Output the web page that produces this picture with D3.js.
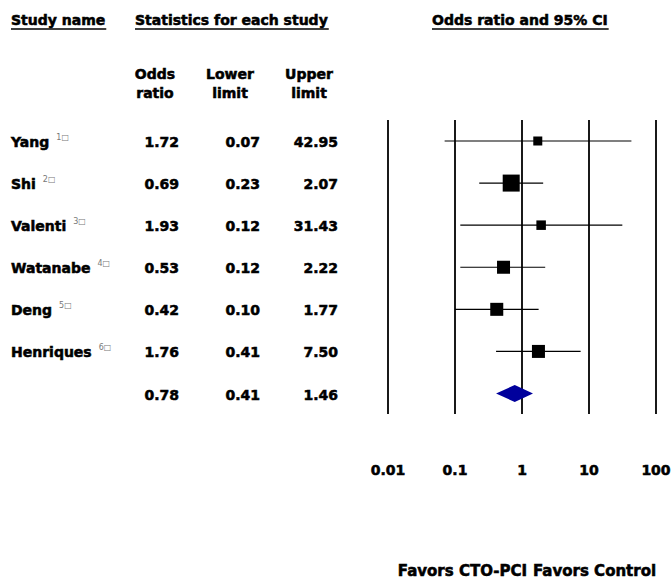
<html>
<head>
    <meta charset="utf-8" />
    <title>Forest plot</title>
    <script src="https://d3js.org/d3.v7.min.js"></script>
    <style>
      body { margin: 0; background: #fff; }
      text { font-family: "DejaVu Sans", sans-serif; font-weight: bold; fill: #000; stroke: #000; stroke-width: 0.55px; }
      text .sup { stroke: none; }
    </style>
</head>
<body>
    <svg class="chart"></svg>
    <script type="application/javascript">
    // study data
    const studies = ["Yang", "Shi", "Valenti", "Watanabe", "Deng", "Henriques"];
    const refs = ["1", "2", "3", "4", "5", "6"];
    const oddsRatio = [1.72, 0.69, 1.93, 0.53, 0.42, 1.76];
    const lowerLimit = [0.07, 0.23, 0.12, 0.12, 0.10, 0.41];
    const upperLimit = [42.95, 2.07, 31.43, 2.22, 1.77, 7.50];
    const weights = [9, 17, 9.5, 13, 13, 13]; // relative box size
    const summary = { or: 0.78, lo: 0.41, hi: 1.46 };
    const ticks = [0.01, 0.1, 1, 10, 100];

    const width = 672, height = 581;
    const svg = d3.select("svg")
      .attr("width", width)
      .attr("height", height);

    const x = d3.scaleLog().domain([0.01, 100]).range([388, 656]);
    const y = d3.scaleLinear().domain([0, 6]).range([141, 393.5]);
    const fmt = d3.format(".2f");

    //Headers with underline
    function header(txt, xs, ys) {
      const t = svg.append("text").attr("x", xs).attr("y", ys)
        .style("font-size", "14px").text(txt);
      const w = t.node().getComputedTextLength();
      svg.append("line").attr("x1", xs).attr("x2", xs + w + 1)
        .attr("y1", ys + 4).attr("y2", ys + 4)
        .attr("stroke", "#000").attr("stroke-width", 1.3);
    }
    header("Study name", 11, 25);
    header("Statistics for each study", 135, 25);
    header("Odds ratio and 95% CI", 432, 25);

    const colX = [155, 230, 309];
    const colRight = [179, 260, 338];
    [["Odds", "ratio"], ["Lower", "limit"], ["Upper", "limit"]].forEach(function(h, i) {
      svg.append("text").attr("x", colX[i]).attr("y", 79).attr("text-anchor", "middle")
        .style("font-size", "14px").text(h[0]);
      svg.append("text").attr("x", colX[i]).attr("y", 98).attr("text-anchor", "middle")
        .style("font-size", "14px").text(h[1]);
    });

    //Vertical grid lines
    svg.selectAll(".vline").data(ticks).enter().append("line")
      .attr("x1", d => x(d)).attr("x2", d => x(d))
      .attr("y1", 120).attr("y2", 414)
      .attr("stroke", "#000").attr("stroke-width", 1.8);

    //Study names
    const names = svg.selectAll(".name").data(studies).enter().append("text")
      .attr("x", 11).attr("y", (d, i) => y(i) + 6)
      .style("font-size", "14px");
    names.append("tspan").text(d => d);
    names.append("tspan").attr("class", "sup").attr("dx", 7).attr("dy", -7)
      .style("font-size", "8px").style("font-weight", "normal").style("fill", "#777")
      .text((d, i) => refs[i] + "\u25A1");

    //Stat columns
    const cols = [oddsRatio.concat(summary.or), lowerLimit.concat(summary.lo), upperLimit.concat(summary.hi)];
    cols.forEach(function(vals, c) {
      svg.selectAll(".col" + c).data(vals).enter().append("text")
        .attr("x", colRight[c]).attr("y", (d, i) => y(i) + 6)
        .attr("text-anchor", "end")
        .style("font-size", "14px")
        .text(d => fmt(d));
    });

    //CI lines
    svg.selectAll(".ci").data(studies).enter().append("line")
      .attr("x1", (d, i) => x(lowerLimit[i])).attr("x2", (d, i) => x(upperLimit[i]))
      .attr("y1", (d, i) => y(i)).attr("y2", (d, i) => y(i))
      .attr("stroke", "#000").attr("stroke-width", 1.2);

    //Boxes
    svg.selectAll(".box").data(studies).enter().append("rect")
      .attr("x", (d, i) => x(oddsRatio[i]) - weights[i] / 2)
      .attr("y", (d, i) => y(i) - weights[i] / 2)
      .attr("width", (d, i) => weights[i])
      .attr("height", (d, i) => weights[i])
      .attr("fill", "#000");

    //Summary diamond
    const sy = y(6), dh = 8.5;
    svg.append("path")
      .attr("d", `M${x(summary.lo)},${sy} L${x(summary.or)},${sy - dh} L${x(summary.hi)},${sy} L${x(summary.or)},${sy + dh} Z`)
      .attr("fill", "#00009c");

    //Axis labels
    svg.selectAll(".tick").data(ticks).enter().append("text")
      .attr("x", d => x(d)).attr("y", 475).attr("text-anchor", "middle")
      .style("font-size", "14px")
      .text(d => d3.format("~g")(d));

    svg.append("text").attr("x", 527).attr("y", 576).attr("text-anchor", "end")
      .style("font-size", "15px").text("Favors CTO-PCI");
    svg.append("text").attr("x", 533).attr("y", 576)
      .style("font-size", "15px").text("Favors Control");
    </script>
</body>
</html>
